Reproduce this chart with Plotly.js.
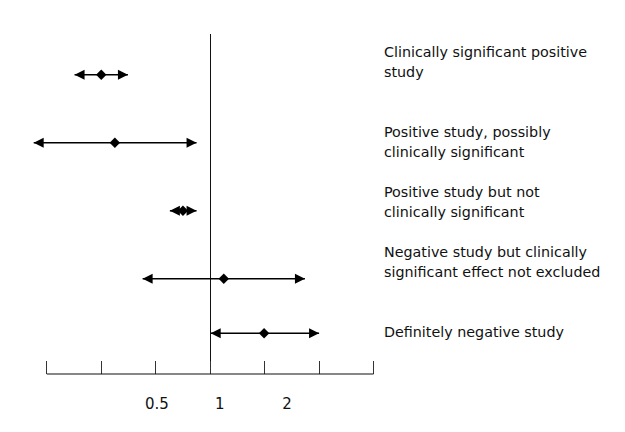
<!DOCTYPE html>
<html>
<head>
<meta charset="utf-8">
<script src="https://cdn.plot.ly/plotly-3.0.1.min.js"></script>
<style>html,body{margin:0;padding:0;background:#fff;}#chart{width:625px;height:432px;}</style>
</head>
<body>
<div id="chart"></div>
<script>
// Study rows (top to bottom)
var rowNames = [
  "Clinically significant positive study",
  "Positive study, possibly clinically significant",
  "Positive study but not clinically significant",
  "Negative study but clinically significant effect not excluded",
  "Definitely negative study"
];
var rowLabelLines = [
  ["Clinically significant positive", "study"],
  ["Positive study, possibly", "clinically significant"],
  ["Positive study but not", "clinically significant"],
  ["Negative study but clinically", "significant effect not excluded"],
  ["Definitely negative study"]
];
var rowPos   = [8.8, 6.8, 4.8, 2.8, 1.2];
var estimate = [-2.0, -1.75, -0.50, 0.25, 0.99];
var lowerCI  = [-2.49, -3.24, -0.74, -1.24, 0.01];
var upperCI  = [-1.51, -0.25, -0.25, 1.74, 2.0];

var axisTicks = [-3, -2, -1, 0, 1, 2, 3];
var tickLabels = ["0.5", "1", "2"];
var tickLabelAt = [-0.977, 0.174, 1.41];

var labelCenters = [9.19, 6.83, 5.07, 3.30, 1.24];

var ink = "#000";
var font = {family: "DejaVu Sans, Verdana, sans-serif", size: 14.3, color: "#111"};

var traces = [];
for (var i = 0; i < rowNames.length; i++) {
  traces.push({
    type: "scatter",
    mode: "lines+markers",
    name: rowNames[i],
    x: [lowerCI[i], estimate[i], upperCI[i]],
    y: [rowPos[i], rowPos[i], rowPos[i]],
    line: {color: ink, width: 1.5},
    marker: {
      symbol: ["arrow-left", "diamond", "arrow-right"],
      size: [10, 8, 10],
      color: ink,
      opacity: 1,
      line: {width: 0}
    },
    cliponaxis: false,
    hoverinfo: "skip",
    showlegend: false
  });
}
// invisible trace to carry the label axis
traces.push({type: "scatter", mode: "markers", x: [0], y: [0], xaxis: "x2",
  marker: {opacity: 0}, hoverinfo: "skip", showlegend: false});

var annotations = [];
for (var r = 0; r < rowLabelLines.length; r++) {
  var lines = rowLabelLines[r];
  for (var k = 0; k < lines.length; k++) {
    var shift = (lines.length - 1) * 10 - k * 20;
    annotations.push({
      xref: "paper", yref: "y", x: 1.009, y: labelCenters[r],
      xanchor: "left", yanchor: "middle", yshift: shift,
      text: lines[k], showarrow: false, font: font
    });
  }
}

var layout = {
  width: 625, height: 432,
  margin: {l: 25, r: 246, t: 34, b: 58, pad: 0},
  paper_bgcolor: "#fff", plot_bgcolor: "#fff",
  showlegend: false,
  xaxis: {
    range: [-3.4, 3.1], showgrid: false, showline: false,
    zeroline: true, zerolinecolor: "#111", zerolinewidth: 1.3,
    tickmode: "array", tickvals: axisTicks, ticks: "inside", ticklen: 13,
    tickwidth: 1, tickcolor: "#333", showticklabels: false, fixedrange: true
  },
  xaxis2: {
    overlaying: "x", range: [-3.4, 3.1], side: "bottom", anchor: "y",
    showgrid: false, showline: false, zeroline: false, ticks: "",
    tickmode: "array", tickvals: tickLabelAt, ticktext: tickLabels,
    tickfont: {family: "DejaVu Sans, Verdana, sans-serif", size: 15, color: "#111"},
    ticklabelstandoff: 19
  },
  yaxis: {range: [0, 10], visible: false, fixedrange: true},
  shapes: [{
    type: "line", xref: "x", yref: "paper", x0: -3, x1: 3, y0: 0, y1: 0,
    line: {color: "#111", width: 1.2}
  }],
  annotations: annotations
};

Plotly.newPlot("chart", traces, layout, {displayModeBar: false, staticPlot: true});
</script>
</body>
</html>
